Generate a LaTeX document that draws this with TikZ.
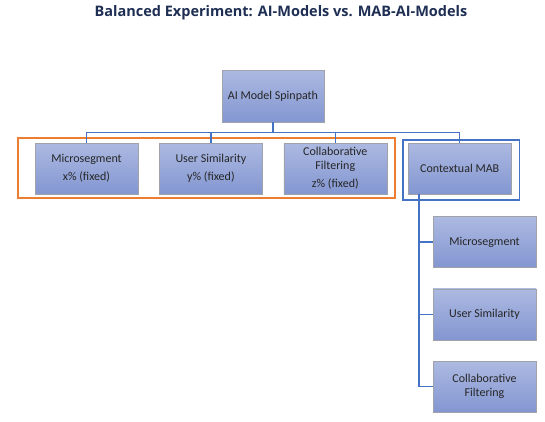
\documentclass[tikz,border=0pt]{standalone}
\usepackage{fontspec}
\setmainfont{Carlito}
\newfontfamily\titlefont{Open Sans}
\usetikzlibrary{positioning, calc}
\definecolor{boxtop}{RGB}{172,185,225}
\definecolor{boxbot}{RGB}{131,150,209}
\definecolor{boxedge}{RGB}{160,162,170}
\definecolor{linkblue}{RGB}{68,114,196}
\definecolor{frameorange}{RGB}{237,125,49}
\definecolor{titlecol}{RGB}{31,47,84}
\definecolor{textcol}{RGB}{38,38,38}
\tikzset{
x=1pt, y=-1pt, % one unit is one pixel of the layout, y runs downwards
node distance=21pt, % gap between two neighbouring model boxes
box/.style={draw=boxedge, top color=boxtop, bottom color=boxbot,
  minimum width=103pt, minimum height=51pt, inner sep=2pt, align=center,
  text=textcol, font=\fontsize{12}{14}\selectfont}, % the blue model boxes
link/.style={draw=linkblue, line width=1.3pt}, % tree connectors
orangeframe/.style={draw=frameorange, line width=1.6pt}, % fixed split group
blueframe/.style={draw=linkblue, line width=1.6pt}, % MAB group
}

\begin{document}
\begin{tikzpicture}
    \path[fill=white] (0,0) rectangle (545,421);

    \node[font=\titlefont\bfseries\fontsize{14.5}{16}\selectfont, text=titlecol]
        (title) at (281,13) {Balanced Experiment: AI-Models vs. MAB-AI-Models};

    % root and the fixed models
    \node[box, minimum width=102pt, minimum height=52pt] (root) at (273,96) {AI Model Spinpath};
    \node[box] (ms) at (86.5,168.5) {Microsegment\\[4pt]x\% (fixed)};
    \node[box, right=of ms] (us) {User Similarity\\[4pt]y\% (fixed)};
    \node[box, right=of us] (cf) {Collaborative\\Filtering\\[4pt]z\% (fixed)};
    \node[box, right=of cf] (cmab) {Contextual MAB};

    % models under the bandit
    \node[box] (ms2) at (484.5,242) {Microsegment};
    \node[box, below=of ms2] (us2) {User Similarity};
    \node[box, below=of us2] (cf2) {Collaborative\\Filtering};

    % group frames
    \draw[orangeframe] ($(ms.north west)+(-17,-5)$) rectangle ($(cf.south east)+(8,4)$);
    \draw[blueframe] ($(cmab.north west)+(-5,-3)$) rectangle ($(cmab.south east)+(8,6)$);

    % connectors
    \coordinate (bus) at ($(root.south)+(0,10)$);
    \draw[link] (root.south) -- (bus);
    \foreach \child in {ms,us,cf,cmab}
        \draw[link] (bus) -| (\child.north);

    \coordinate (spine) at ($(cmab.south west)+(11,0)$);
    \foreach \child in {ms2,us2,cf2}
        \draw[link] (spine) |- (\child.west);
\end{tikzpicture}
\end{document}
